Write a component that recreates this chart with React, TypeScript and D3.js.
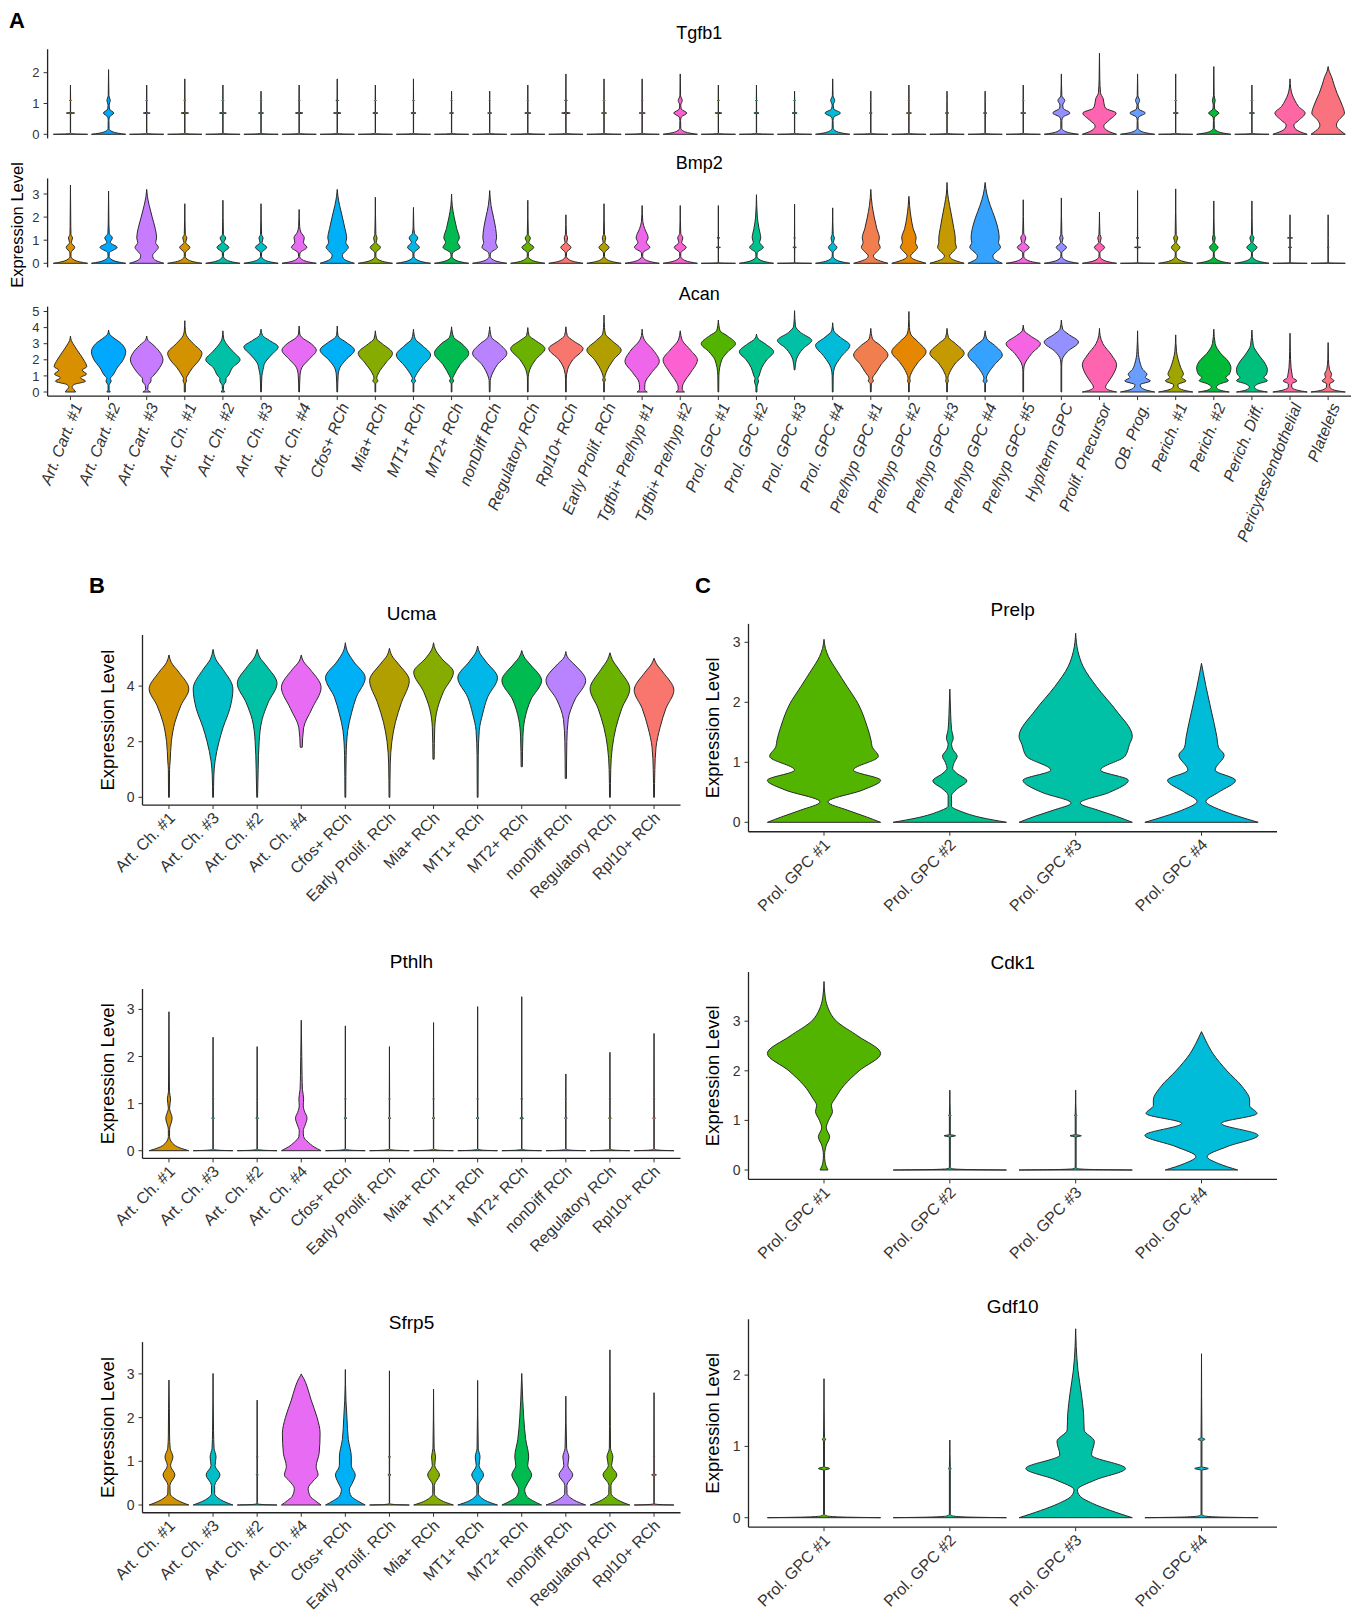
import React from "react";
import * as d3 from "d3";

type Knot = [number, number]; // [expression value, relative half-width]

// ---------- helpers to write violin outlines ----------
// thin "line" violin: spike at zero, thin stem to max, small dashes at ~0.69 / ~1.1
const STEM = 0.008;
const L = (max: number, t1: number, t2: number): Knot[] => {
  const k: Knot[] = [[0, 1], [0.01, 0.3], [0.025, 0.05], [0.05, STEM], [0.665, STEM], [0.69, t1], [0.715, STEM]];
  if (max > 1.2) k.push([1.075, STEM], [1.1, t2], [1.125, STEM]);
  k.push([max, 0]);
  return k;
};
// zero-inflated violin: full skirt at zero, then read knots, then tip at max
const Z = (max: number, mid: Knot[], s = 0.25): Knot[] => [
  [0, 1], [s * 0.2, 0.55], [s * 0.5, 0.2], [s, 0.03],
  ...mid.filter((k) => k[0] > s),
  [max, 0],
];

// ---------- categories & colours ----------
const CATS_A = [
  "Art. Cart. #1", "Art. Cart. #2", "Art. Cart. #3", "Art. Ch. #1", "Art. Ch. #2", "Art. Ch. #3", "Art. Ch. #4",
  "Cfos+ RCh", "Mia+ RCh", "MT1+ RCh", "MT2+ RCh", "nonDiff RCh", "Regulatory RCh", "Rpl10+ RCh",
  "Early Prolif. RCh", "Tgfbi+ Pre/hyp #1", "Tgfbi+ Pre/hyp #2", "Prol. GPC #1", "Prol. GPC #2", "Prol. GPC #3",
  "Prol. GPC #4", "Pre/hyp GPC #1", "Pre/hyp GPC #2", "Pre/hyp GPC #3", "Pre/hyp GPC #4", "Pre/hyp GPC #5",
  "Hyp/term GPC", "Prolif. Precursor", "OB. Prog.", "Perich. #1", "Perich. #2", "Perich. Diff.",
  "Pericytes/endothelial", "Platelets",
];
const COLORS_A = [
  "#D89000", "#00A9FF", "#C77CFF", "#D39200", "#00C0A6", "#00BEC8", "#E76BF3", "#00B0F6", "#86AC00", "#00B7E8",
  "#00BC50", "#B983FF", "#6BB100", "#F8766D", "#B19F00", "#EE67EB", "#FD61D1", "#53B400", "#00C08B", "#00C1A5",
  "#00BCD8", "#F07E4E", "#E58700", "#C49A00", "#35A2FF", "#F564E3", "#9590FF", "#FF64B0", "#699EFF", "#A0A400",
  "#00BA38", "#00BF7D", "#FF67A4", "#FB727F",
];
const CATS_B = [
  "Art. Ch. #1", "Art. Ch. #3", "Art. Ch. #2", "Art. Ch. #4", "Cfos+ RCh", "Early Prolif. RCh", "Mia+ RCh",
  "MT1+ RCh", "MT2+ RCh", "nonDiff RCh", "Regulatory RCh", "Rpl10+ RCh",
];
const COLORS_B = ["#D39200", "#00BEC8", "#00C0A6", "#E76BF3", "#00B0F6", "#B19F00", "#86AC00", "#00B7E8", "#00BC50", "#B983FF", "#6BB100", "#F8766D"];
const CATS_C = ["Prol. GPC #1", "Prol. GPC #2", "Prol. GPC #3", "Prol. GPC #4"];
const COLORS_C = ["#53B400", "#00C08B", "#00C1A5", "#00BCD8"];

// ---------- tick values ----------
const TICKS_TGFB1 = [0, 1, 2];
const TICKS_BMP2 = [0, 1, 2, 3];
const TICKS_ACAN = [0, 1, 2, 3, 4, 5];
const TICKS_UCMA = [0, 2, 4];
const TICKS_PTHLH = [0, 1, 2, 3];
const TICKS_SFRP5 = [0, 1, 2, 3];
const TICKS_PRELP = [0, 1, 2, 3];
const TICKS_CDK1 = [0, 1, 2, 3];
const TICKS_GDF10 = [0, 1, 2];

// ---------- violin outlines (value, relative half-width) ----------
const TGFB1: Knot[][] = [
  L(1.6, 0.24, 0.06),
  Z(2.1, [[0.45, 0.02], [0.56, 0.05], [0.69, 0.3], [0.82, 0.05], [0.95, 0.03], [1.1, 0.1], [1.25, 0.02]], 0.18),
  L(1.6, 0.2, 0.05), L(1.8, 0.22, 0.06), L(1.6, 0.2, 0.05), L(1.4, 0.15, 0.04), L(1.6, 0.22, 0.06),
  L(1.8, 0.22, 0.08), L(1.6, 0.15, 0.05), L(1.8, 0.15, 0.05), L(1.4, 0.12, 0.03), L(1.4, 0.12, 0.03),
  L(1.6, 0.18, 0.04), L(1.96, 0.25, 0.08), L(1.8, 0.15, 0.05), L(1.8, 0.18, 0.06),
  Z(1.96, [[0.45, 0.02], [0.56, 0.06], [0.69, 0.38], [0.82, 0.06], [0.95, 0.03], [1.1, 0.12], [1.25, 0.02]], 0.2),
  L(1.6, 0.2, 0.06), L(1.6, 0.15, 0.05), L(1.4, 0.15, 0.05),
  Z(1.8, [[0.45, 0.02], [0.56, 0.07], [0.69, 0.45], [0.82, 0.07], [0.95, 0.03], [1.1, 0.12], [1.25, 0.02]], 0.2),
  L(1.4, 0.08, 0.03), L(1.6, 0.15, 0.04), L(1.4, 0.1, 0.03), L(1.4, 0.1, 0.03), L(1.6, 0.15, 0.04),
  Z(1.96, [[0.45, 0.03], [0.56, 0.1], [0.69, 0.5], [0.85, 0.1], [0.95, 0.08], [1.1, 0.2], [1.25, 0.03]], 0.2),
  [[0, 1], [0.08, 0.6], [0.18, 0.32], [0.27, 0.25], [0.45, 0.55], [0.69, 0.97], [0.85, 0.35], [1.05, 0.25], [1.15, 0.22], [1.35, 0.06], [1.8, 0.02], [2.63, 0]],
  Z(1.96, [[0.45, 0.02], [0.56, 0.07], [0.69, 0.45], [0.82, 0.07], [0.95, 0.03], [1.1, 0.12], [1.25, 0.02]], 0.2),
  L(1.96, 0.15, 0.05),
  Z(2.2, [[0.45, 0.02], [0.56, 0.05], [0.69, 0.3], [0.82, 0.05], [0.95, 0.03], [1.1, 0.08], [1.25, 0.02]], 0.2),
  L(1.6, 0.15, 0.05),
  [[0, 1], [0.08, 0.6], [0.18, 0.3], [0.3, 0.22], [0.45, 0.5], [0.69, 0.88], [0.9, 0.5], [1.1, 0.28], [1.3, 0.12], [1.5, 0.04], [1.8, 0]],
  [[0, 1], [0.1, 0.75], [0.2, 0.55], [0.3, 0.48], [0.45, 0.6], [0.69, 0.95], [0.9, 0.85], [1.33, 0.52], [1.6, 0.35], [1.87, 0.2], [2.05, 0.06], [2.2, 0]],
];

const BMP2: Knot[][] = [
  Z(3.39, [[0.45, 0.03], [0.69, 0.25], [0.9, 0.05], [1.1, 0.12], [1.25, 0.03], [1.6, 0.02]], 0.3),
  Z(3.13, [[0.45, 0.04], [0.69, 0.5], [0.9, 0.1], [1.1, 0.22], [1.3, 0.04], [1.7, 0.02]], 0.3),
  [[0, 1], [0.1, 0.6], [0.22, 0.38], [0.35, 0.35], [0.5, 0.5], [0.69, 0.68], [0.9, 0.52], [1.1, 0.58], [1.5, 0.5], [2.0, 0.32], [2.5, 0.15], [2.9, 0.04], [3.2, 0]],
  Z(2.58, [[0.45, 0.03], [0.69, 0.3], [0.9, 0.05], [1.1, 0.12], [1.25, 0.03]], 0.3),
  Z(2.73, [[0.45, 0.03], [0.69, 0.35], [0.9, 0.06], [1.1, 0.16], [1.25, 0.03]], 0.3),
  Z(2.58, [[0.45, 0.03], [0.69, 0.33], [0.9, 0.06], [1.1, 0.12], [1.25, 0.03]], 0.3),
  Z(2.33, [[0.45, 0.05], [0.69, 0.45], [0.9, 0.25], [1.1, 0.3], [1.35, 0.1], [1.6, 0.03]], 0.3),
  [[0, 1], [0.1, 0.6], [0.22, 0.35], [0.35, 0.3], [0.5, 0.45], [0.69, 0.65], [0.9, 0.5], [1.1, 0.55], [1.5, 0.45], [2.0, 0.3], [2.5, 0.14], [2.9, 0.04], [3.2, 0]],
  Z(2.86, [[0.45, 0.03], [0.69, 0.3], [0.9, 0.05], [1.1, 0.1], [1.25, 0.03]], 0.3),
  Z(2.42, [[0.45, 0.03], [0.69, 0.35], [0.9, 0.12], [1.1, 0.25], [1.3, 0.06], [1.6, 0.02]], 0.3),
  Z(3.0, [[0.45, 0.06], [0.69, 0.5], [0.9, 0.35], [1.1, 0.45], [1.5, 0.3], [2.0, 0.15], [2.5, 0.04]], 0.3),
  Z(3.15, [[0.45, 0.06], [0.69, 0.45], [0.9, 0.35], [1.1, 0.4], [1.5, 0.35], [2.0, 0.22], [2.5, 0.08]], 0.3),
  Z(2.73, [[0.45, 0.03], [0.69, 0.35], [0.9, 0.06], [1.1, 0.15], [1.25, 0.03]], 0.3),
  Z(2.1, [[0.45, 0.03], [0.69, 0.3], [0.9, 0.05], [1.1, 0.1], [1.25, 0.03]], 0.3),
  Z(2.58, [[0.45, 0.03], [0.69, 0.3], [0.9, 0.05], [1.1, 0.1], [1.25, 0.03]], 0.3),
  Z(2.5, [[0.45, 0.04], [0.69, 0.45], [0.9, 0.25], [1.1, 0.35], [1.5, 0.15], [1.8, 0.04]], 0.3),
  Z(2.5, [[0.45, 0.03], [0.69, 0.35], [0.9, 0.08], [1.1, 0.15], [1.3, 0.03]], 0.3),
  L(2.5, 0.12, 0.08),
  Z(2.97, [[0.45, 0.04], [0.69, 0.4], [0.9, 0.18], [1.1, 0.25], [1.5, 0.15], [2.0, 0.05]], 0.3),
  L(2.56, 0.1, 0.05),
  Z(2.4, [[0.45, 0.02], [0.69, 0.25], [0.9, 0.04], [1.1, 0.1], [1.25, 0.03]], 0.3),
  [[0, 1], [0.1, 0.55], [0.2, 0.25], [0.32, 0.15], [0.5, 0.35], [0.69, 0.55], [0.9, 0.45], [1.1, 0.5], [1.5, 0.35], [2.0, 0.2], [2.5, 0.08], [3.2, 0]],
  [[0, 1], [0.1, 0.55], [0.2, 0.22], [0.32, 0.1], [0.5, 0.3], [0.69, 0.5], [0.9, 0.38], [1.1, 0.42], [1.5, 0.25], [2.0, 0.12], [2.5, 0.04], [2.9, 0]],
  [[0, 1], [0.1, 0.55], [0.2, 0.25], [0.32, 0.15], [0.5, 0.35], [0.69, 0.55], [0.9, 0.48], [1.1, 0.48], [1.5, 0.4], [2.0, 0.28], [2.5, 0.15], [3.0, 0.04], [3.5, 0]],
  [[0, 1], [0.1, 0.7], [0.2, 0.5], [0.32, 0.45], [0.5, 0.65], [0.69, 0.9], [0.9, 0.78], [1.1, 0.82], [1.5, 0.75], [2.0, 0.55], [2.5, 0.3], [3.0, 0.1], [3.5, 0]],
  Z(2.75, [[0.45, 0.03], [0.69, 0.35], [0.9, 0.08], [1.1, 0.15], [1.3, 0.03]], 0.3),
  Z(2.83, [[0.45, 0.02], [0.69, 0.3], [0.9, 0.04], [1.1, 0.1], [1.25, 0.03]], 0.3),
  Z(2.22, [[0.45, 0.02], [0.69, 0.3], [0.9, 0.04], [1.1, 0.1], [1.25, 0.03]], 0.3),
  L(3.15, 0.18, 0.08),
  Z(3.22, [[0.45, 0.02], [0.69, 0.25], [0.9, 0.04], [1.1, 0.12], [1.25, 0.03]], 0.3),
  Z(2.7, [[0.45, 0.02], [0.69, 0.25], [0.9, 0.04], [1.1, 0.08], [1.25, 0.03]], 0.3),
  Z(2.7, [[0.45, 0.02], [0.69, 0.3], [0.9, 0.05], [1.1, 0.12], [1.25, 0.03]], 0.3),
  L(2.1, 0.1, 0.15),
  L(2.1, 0.06, 0.04),
];

const ACAN: Knot[][] = [
  [[0, 0.3], [0.15, 0.2], [0.3, 0.1], [0.46, 0.2], [0.67, 0.88], [0.88, 0.58], [1.11, 0.93], [1.36, 0.68], [1.57, 0.95], [1.98, 0.78], [2.6, 0.39], [3.0, 0.15], [3.2, 0.05], [3.48, 0]],
  [[0, 0.1], [0.15, 0.03], [0.4, 0.03], [0.69, 0.15], [0.85, 0.1], [1.0, 0.22], [1.5, 0.5], [2.0, 0.85], [2.5, 1.0], [3.0, 0.75], [3.4, 0.25], [3.6, 0.05], [3.85, 0]],
  [[0, 0.22], [0.15, 0.06], [0.4, 0.08], [0.69, 0.25], [0.85, 0.25], [1.0, 0.38], [1.5, 0.75], [2.0, 0.95], [2.5, 0.75], [3.0, 0.3], [3.2, 0.08], [3.48, 0]],
  [[0, 0.03], [0.5, 0.03], [0.69, 0.1], [0.85, 0.08], [1.0, 0.15], [1.5, 0.45], [2.0, 0.85], [2.4, 1.0], [3.0, 0.5], [3.5, 0.1], [3.8, 0.03], [4.43, 0]],
  [[0, 0.1], [0.15, 0.03], [0.4, 0.04], [0.69, 0.18], [0.85, 0.18], [1.0, 0.3], [1.5, 0.55], [2.0, 1.0], [2.5, 0.6], [3.0, 0.2], [3.3, 0.05], [3.8, 0]],
  [[0, 0.02], [1.0, 0.05], [1.4, 0.12], [1.8, 0.22], [2.3, 0.6], [2.8, 1.0], [3.2, 0.5], [3.5, 0.1], [3.9, 0]],
  [[0, 0.02], [1.0, 0.05], [1.5, 0.15], [2.0, 0.55], [2.6, 1.0], [3.0, 0.7], [3.4, 0.15], [3.6, 0.04], [4.1, 0]],
  [[0, 0.02], [1.0, 0.05], [1.5, 0.15], [2.0, 0.5], [2.6, 1.0], [3.1, 0.5], [3.4, 0.1], [3.6, 0.03], [4.1, 0]],
  [[0, 0.02], [0.5, 0.02], [0.69, 0.15], [0.85, 0.08], [1.2, 0.2], [1.8, 0.6], [2.4, 1.0], [3.0, 0.4], [3.3, 0.08], [3.8, 0]],
  [[0, 0.02], [0.5, 0.02], [0.69, 0.12], [0.85, 0.06], [1.0, 0.12], [1.6, 0.5], [2.3, 1.0], [2.9, 0.5], [3.3, 0.1], [3.9, 0]],
  [[0, 0.02], [0.5, 0.02], [0.69, 0.12], [0.85, 0.06], [1.0, 0.12], [1.7, 0.5], [2.4, 1.0], [3.0, 0.6], [3.4, 0.12], [4.05, 0]],
  [[0, 0.02], [0.7, 0.03], [1.0, 0.1], [1.7, 0.45], [2.4, 1.0], [3.0, 0.55], [3.4, 0.1], [4.05, 0]],
  [[0, 0.02], [0.8, 0.02], [1.4, 0.12], [2.0, 0.45], [2.7, 1.0], [3.2, 0.45], [3.5, 0.08], [4.0, 0]],
  [[0, 0.02], [0.8, 0.02], [1.4, 0.1], [2.0, 0.4], [2.7, 1.0], [3.2, 0.4], [3.5, 0.08], [4.05, 0]],
  [[0, 0.02], [0.6, 0.02], [0.75, 0.08], [0.9, 0.04], [1.2, 0.12], [2.0, 0.55], [2.6, 1.0], [3.2, 0.45], [3.6, 0.08], [4.0, 0.03], [4.78, 0]],
  [[0, 0.3], [0.15, 0.15], [0.3, 0.15], [0.6, 0.18], [1.2, 0.55], [1.9, 1.0], [2.6, 0.65], [3.2, 0.15], [3.5, 0.04], [3.9, 0]],
  [[0, 0.25], [0.15, 0.12], [0.3, 0.12], [0.6, 0.22], [1.2, 0.6], [2.0, 1.0], [2.6, 0.6], [3.2, 0.12], [3.5, 0.04], [3.8, 0]],
  [[0, 0.02], [1.0, 0.03], [2.0, 0.2], [2.5, 0.55], [3.0, 1.0], [3.5, 0.5], [3.8, 0.1], [4.47, 0]],
  [[0, 0.03], [0.3, 0.03], [0.69, 0.12], [0.85, 0.08], [1.0, 0.15], [1.5, 0.3], [2.0, 0.6], [2.5, 1.0], [3.0, 0.5], [3.3, 0.1], [3.6, 0]],
  [[1.37, 0.02], [2.0, 0.1], [2.7, 0.5], [3.2, 1.0], [3.7, 0.35], [4.1, 0.05], [5.05, 0]],
  [[0, 0.02], [1.0, 0.03], [1.5, 0.1], [2.2, 0.5], [2.9, 1.0], [3.4, 0.45], [3.8, 0.06], [4.3, 0]],
  [[0, 0.02], [0.5, 0.03], [0.69, 0.15], [0.85, 0.1], [1.2, 0.3], [1.7, 0.6], [2.3, 1.0], [2.9, 0.55], [3.3, 0.1], [3.95, 0]],
  [[0, 0.02], [0.5, 0.02], [0.7, 0.08], [0.85, 0.05], [1.2, 0.15], [1.8, 0.5], [2.5, 1.0], [3.1, 0.55], [3.6, 0.1], [4.0, 0.03], [5.0, 0]],
  [[0, 0.02], [0.5, 0.02], [0.7, 0.08], [0.85, 0.05], [1.2, 0.15], [1.8, 0.5], [2.4, 1.0], [3.0, 0.5], [3.4, 0.08], [3.95, 0]],
  [[0, 0.02], [0.5, 0.02], [0.69, 0.12], [0.85, 0.07], [1.2, 0.2], [1.7, 0.55], [2.3, 1.0], [2.9, 0.55], [3.3, 0.1], [3.8, 0]],
  [[0, 0.02], [1.2, 0.02], [1.6, 0.05], [2.4, 0.5], [3.0, 1.0], [3.5, 0.4], [3.8, 0.06], [4.15, 0]],
  [[0, 0.02], [1.6, 0.02], [2.0, 0.05], [2.5, 0.35], [3.1, 1.0], [3.6, 0.4], [3.9, 0.08], [4.47, 0]],
  [[0, 1], [0.12, 0.55], [0.3, 0.35], [0.6, 0.5], [1.0, 0.75], [1.7, 1.0], [2.3, 0.7], [3.0, 0.2], [3.5, 0.04], [3.95, 0]],
  [[0, 1], [0.12, 0.5], [0.3, 0.2], [0.45, 0.15], [0.69, 0.75], [0.9, 0.45], [1.1, 0.55], [1.4, 0.3], [1.8, 0.15], [2.5, 0.04], [3.8, 0]],
  [[0, 1], [0.12, 0.45], [0.3, 0.15], [0.45, 0.12], [0.69, 0.6], [0.9, 0.35], [1.1, 0.45], [1.5, 0.3], [2.0, 0.15], [2.5, 0.05], [3.55, 0]],
  [[0, 0.9], [0.12, 0.35], [0.3, 0.15], [0.5, 0.35], [0.7, 0.85], [0.9, 0.7], [1.1, 0.9], [1.5, 1.0], [1.9, 0.85], [2.4, 0.4], [3.0, 0.08], [3.9, 0]],
  [[0, 0.9], [0.12, 0.35], [0.3, 0.15], [0.5, 0.35], [0.7, 0.9], [0.9, 0.7], [1.1, 0.85], [1.4, 0.9], [1.8, 0.75], [2.3, 0.4], [2.9, 0.08], [3.85, 0]],
  [[0, 1], [0.12, 0.4], [0.3, 0.1], [0.5, 0.1], [0.69, 0.4], [0.9, 0.15], [1.1, 0.12], [1.5, 0.06], [2.5, 0.02], [3.65, 0]],
  [[0, 1], [0.12, 0.35], [0.3, 0.1], [0.5, 0.08], [0.69, 0.35], [0.9, 0.15], [1.1, 0.2], [1.4, 0.08], [2.0, 0.02], [3.07, 0]],
];

const UCMA: Knot[][] = [
  [[0, 0.02], [1.0, 0.03], [1.3, 0.06], [2.0, 0.12], [2.7, 0.3], [3.3, 0.6], [3.9, 1.0], [4.5, 0.5], [4.85, 0.12], [5.12, 0]],
  [[0, 0.02], [0.8, 0.04], [1.3, 0.1], [2.0, 0.3], [2.5, 0.5], [3.2, 0.85], [3.9, 1.0], [4.6, 0.5], [4.95, 0.15], [5.32, 0]],
  [[0, 0.02], [1.0, 0.05], [2.0, 0.1], [2.8, 0.25], [3.4, 0.55], [4.1, 1.0], [4.7, 0.5], [5.05, 0.12], [5.32, 0]],
  [[1.8, 0.05], [2.5, 0.12], [3.2, 0.55], [3.95, 1.0], [4.6, 0.45], [4.9, 0.1], [5.12, 0]],
  [[0, 0.02], [1.5, 0.04], [2.4, 0.12], [3.0, 0.3], [3.6, 0.55], [4.3, 1.0], [4.9, 0.4], [5.25, 0.1], [5.56, 0]],
  [[0, 0.02], [1.2, 0.04], [2.0, 0.12], [2.7, 0.3], [3.4, 0.6], [4.2, 1.0], [4.8, 0.45], [5.1, 0.12], [5.36, 0]],
  [[1.37, 0.03], [2.5, 0.06], [3.2, 0.2], [3.8, 0.5], [4.5, 1.0], [5.0, 0.4], [5.3, 0.1], [5.56, 0]],
  [[0, 0.02], [1.5, 0.03], [2.4, 0.08], [3.0, 0.25], [3.6, 0.5], [4.3, 1.0], [4.9, 0.4], [5.2, 0.1], [5.44, 0]],
  [[1.1, 0.03], [2.2, 0.06], [2.8, 0.15], [3.5, 0.45], [4.2, 1.0], [4.8, 0.4], [5.05, 0.12], [5.28, 0]],
  [[0.68, 0.03], [2.0, 0.05], [2.8, 0.12], [3.5, 0.45], [4.2, 1.0], [4.8, 0.4], [5.0, 0.12], [5.24, 0]],
  [[0, 0.02], [1.0, 0.04], [1.8, 0.12], [2.5, 0.3], [3.2, 0.6], [3.9, 1.0], [4.6, 0.45], [4.95, 0.12], [5.2, 0]],
  [[0, 0.02], [1.0, 0.04], [1.8, 0.1], [2.5, 0.3], [3.2, 0.6], [3.85, 1.0], [4.5, 0.45], [4.8, 0.12], [5.0, 0]],
];

const PTHLH: Knot[][] = [
  Z(2.95, [[0.45, 0.03], [0.69, 0.16], [0.9, 0.03], [1.1, 0.08], [1.25, 0.025], [1.5, 0.02]], 0.3),
  L(2.41, 0.07, 0.04),
  L(2.21, 0.07, 0.03),
  [[0, 1], [0.08, 0.65], [0.18, 0.35], [0.3, 0.12], [0.42, 0.1], [0.55, 0.2], [0.69, 0.29], [0.85, 0.15], [0.95, 0.1], [1.1, 0.12], [1.3, 0.06], [1.6, 0.04], [2.0, 0.025], [2.77, 0]],
  L(2.65, 0.07, 0.03), L(2.21, 0.07, 0.03), L(2.72, 0.07, 0.03), L(3.06, 0.07, 0.03),
  L(3.27, 0.09, 0.04), L(1.63, 0.07, 0.03), L(2.09, 0.07, 0.04), L(2.49, 0.07, 0.04),
];

const SFRP5: Knot[][] = [
  [[0, 1], [0.08, 0.55], [0.16, 0.25], [0.25, 0.06], [0.45, 0.05], [0.69, 0.3], [0.9, 0.08], [1.1, 0.2], [1.3, 0.06], [1.6, 0.03], [2.2, 0.02], [2.86, 0]],
  [[0, 1], [0.08, 0.55], [0.16, 0.25], [0.26, 0.08], [0.45, 0.08], [0.69, 0.35], [0.9, 0.1], [1.1, 0.15], [1.3, 0.05], [1.7, 0.025], [3.01, 0]],
  L(2.4, 0.05, 0.04),
  [[0, 1], [0.1, 0.7], [0.2, 0.45], [0.38, 0.35], [0.55, 0.6], [0.69, 0.85], [0.88, 0.75], [1.18, 0.9], [1.64, 0.95], [2.0, 0.8], [2.4, 0.5], [2.7, 0.3], [2.9, 0.12], [2.96, 0.04], [3.0, 0]],
  [[0, 1], [0.1, 0.6], [0.2, 0.3], [0.35, 0.2], [0.5, 0.35], [0.69, 0.5], [0.9, 0.3], [1.1, 0.3], [1.5, 0.15], [2.0, 0.08], [2.4, 0.03], [3.1, 0]],
  L(3.07, 0.08, 0.05),
  [[0, 1], [0.08, 0.5], [0.16, 0.2], [0.26, 0.04], [0.45, 0.04], [0.69, 0.3], [0.9, 0.06], [1.1, 0.1], [1.3, 0.03], [2.65, 0]],
  [[0, 1], [0.08, 0.5], [0.16, 0.2], [0.26, 0.04], [0.45, 0.04], [0.69, 0.3], [0.9, 0.07], [1.1, 0.12], [1.3, 0.03], [2.85, 0]],
  [[0, 1], [0.1, 0.55], [0.2, 0.25], [0.35, 0.15], [0.5, 0.3], [0.69, 0.5], [0.9, 0.3], [1.1, 0.35], [1.5, 0.2], [2.0, 0.1], [2.4, 0.05], [3.01, 0]],
  [[0, 1], [0.08, 0.55], [0.16, 0.25], [0.26, 0.06], [0.45, 0.05], [0.69, 0.35], [0.9, 0.1], [1.1, 0.15], [1.3, 0.04], [2.49, 0]],
  [[0, 1], [0.08, 0.55], [0.16, 0.25], [0.26, 0.06], [0.45, 0.05], [0.69, 0.35], [0.9, 0.08], [1.1, 0.15], [1.3, 0.03], [1.8, 0.02], [3.55, 0]],
  L(2.57, 0.12, 0.04),
];

const PRELP: Knot[][] = [
  [[0, 1], [0.09, 0.75], [0.2, 0.42], [0.34, 0.07], [0.54, 0.69], [0.7, 1.0], [0.87, 0.52], [1.1, 0.96], [1.26, 0.85], [1.37, 0.83], [1.6, 0.76], [1.98, 0.6], [2.26, 0.41], [2.54, 0.22], [2.76, 0.08], [2.9, 0.025], [3.05, 0]],
  [[0, 1], [0.08, 0.55], [0.18, 0.2], [0.27, 0.03], [0.45, 0.03], [0.55, 0.12], [0.69, 0.3], [0.82, 0.12], [0.9, 0.05], [1.0, 0.08], [1.1, 0.13], [1.22, 0.05], [1.3, 0.03], [1.4, 0.06], [1.55, 0.03], [1.8, 0.015], [2.22, 0]],
  [[0, 1], [0.1, 0.72], [0.2, 0.4], [0.32, 0.08], [0.5, 0.6], [0.7, 0.93], [0.87, 0.44], [1.1, 0.87], [1.3, 0.95], [1.43, 1.0], [1.87, 0.71], [2.26, 0.37], [2.6, 0.13], [2.85, 0.04], [3.15, 0]],
  [[0, 1], [0.1, 0.65], [0.2, 0.35], [0.35, 0.08], [0.5, 0.3], [0.7, 0.6], [0.87, 0.24], [1.12, 0.4], [1.25, 0.3], [1.43, 0.27], [1.87, 0.17], [2.26, 0.08], [2.5, 0.03], [2.65, 0]],
];

const CDK1: Knot[][] = [
  [[0, 0.07], [0.15, 0.02], [0.3, 0.01], [0.5, 0.04], [0.67, 0.1], [0.85, 0.04], [1.0, 0.08], [1.18, 0.15], [1.3, 0.13], [1.45, 0.2], [1.7, 0.35], [2.0, 0.62], [2.35, 1.0], [2.7, 0.6], [3.0, 0.22], [3.3, 0.06], [3.5, 0.02], [3.8, 0]],
  L(1.61, 0.1, 0.02),
  L(1.61, 0.1, 0.02),
  [[0, 0.64], [0.13, 0.3], [0.27, 0.1], [0.47, 0.45], [0.7, 1.0], [0.94, 0.35], [1.14, 0.98], [1.3, 0.85], [1.41, 0.85], [1.68, 0.72], [2.0, 0.45], [2.35, 0.2], [2.62, 0.07], [2.79, 0]],
];

const GDF10: Knot[][] = [
  L(1.95, 0.1, 0.03),
  L(1.09, 0.02, 0.01),
  [[0, 1], [0.1, 0.62], [0.2, 0.3], [0.3, 0.08], [0.39, 0.03], [0.53, 0.35], [0.69, 0.88], [0.88, 0.28], [1.07, 0.33], [1.23, 0.15], [1.46, 0.14], [1.74, 0.1], [2.07, 0.04], [2.4, 0.01], [2.65, 0]],
  L(2.3, 0.12, 0.06),
];

// ---------- drawing ----------
const FONT = "'Liberation Sans', Arial, Helvetica, sans-serif";

type PanelProps = {
  title: string;
  titleY: number;
  cats: string[];
  colors: string[];
  data: Knot[][];
  ticks: number[];
  x0: number;
  x1: number;
  zeroY: number;
  unit: number;
  labels: boolean;
  xAxis: boolean;
  labelAngle: number;
  labelSize: number;
  labelDx: number;
  labelDy: number;
  labelItalic?: boolean;
  tickSize: number;
  titleSize: number;
  yTitleX?: number;
};

function Panel(p: PanelProps) {
  const xs = d3.scalePoint<string>().domain(p.cats).range([p.x0, p.x1]).padding(0.6);
  const hw = xs.step() * 0.45;
  const ys = d3.scaleLinear().domain([0, 1]).range([p.zeroY, p.zeroY - p.unit]);
  const M = d3.max(p.data, (k) => k[k.length - 1][0]) as number;
  const top = ys(M * 1.05);
  const bottom = ys(-0.05 * M);
  return (
    <g>
      <text x={(p.x0 + p.x1) / 2} y={p.titleY} textAnchor="middle" fontSize={p.titleSize} fill="#000">
        {p.title}
      </text>
      {p.data.map((knots, i) => {
        const cx = xs(p.cats[i]) as number;
        const area = d3
          .area<Knot>()
          .curve(d3.curveMonotoneY)
          .y((d) => ys(d[0]))
          .x0((d) => cx - d[1] * hw)
          .x1((d) => cx + d[1] * hw);
        return (
          <path key={i} d={area(knots) || ""} fill={p.colors[i]} stroke="#2a2a2a" strokeWidth={1} strokeLinejoin="round" />
        );
      })}
      {/* y axis */}
      <line x1={p.x0} x2={p.x0} y1={top} y2={bottom} stroke="#222" strokeWidth={1.3} />
      {p.ticks.map((t) => (
        <g key={t}>
          <line x1={p.x0 - 4} x2={p.x0} y1={ys(t)} y2={ys(t)} stroke="#333" strokeWidth={1} />
          <text x={p.x0 - 8} y={ys(t)} dy="0.36em" textAnchor="end" fontSize={p.tickSize} fill="#333">
            {t}
          </text>
        </g>
      ))}
      {/* x axis */}
      {p.xAxis && <line x1={p.x0} x2={p.x1} y1={bottom} y2={bottom} stroke="#222" strokeWidth={1.3} />}
      {p.xAxis &&
        p.cats.map((c) => {
          const cx = xs(c) as number;
          return <line key={c} x1={cx} x2={cx} y1={bottom} y2={bottom + 4} stroke="#333" strokeWidth={1} />;
        })}
      {p.labels &&
        p.cats.map((c) => {
          const cx = xs(c) as number;
          const ax = cx + p.labelDx;
          const ay = bottom + p.labelDy;
          return (
            <text
              key={c}
              x={ax}
              y={ay}
              transform={`rotate(${-p.labelAngle},${ax},${ay})`}
              textAnchor="end"
              fontSize={p.labelSize}
              fontStyle={p.labelItalic ? "italic" : "normal"}
              fill="#333"
            >
              {c}
            </text>
          );
        })}
      {p.yTitleX !== undefined && (
        <text
          x={p.yTitleX}
          y={(top + bottom) / 2}
          transform={`rotate(-90,${p.yTitleX},${(top + bottom) / 2})`}
          textAnchor="middle"
          fontSize={18.5}
          fill="#000"
        >
          Expression Level
        </text>
      )}
    </g>
  );
}

export default function App() {
  const A = { cats: CATS_A, colors: COLORS_A, x0: 47.6, x1: 1351, tickSize: 13, titleSize: 18, labelAngle: 68, labelSize: 16, labelDx: 12, labelDy: 10, labelItalic: true };
  const B = { cats: CATS_B, colors: COLORS_B, x0: 142.5, x1: 680.5, tickSize: 14, titleSize: 19, labelAngle: 45, labelSize: 16, labelDx: 7, labelDy: 14, labels: true, xAxis: true, yTitleX: 114 };
  const C = { cats: CATS_C, colors: COLORS_C, x0: 748.5, x1: 1277, tickSize: 14, titleSize: 19, labelAngle: 45, labelSize: 16, labelDx: 7, labelDy: 14, labels: true, xAxis: true, yTitleX: 719 };
  return (
    <svg
      width={1365}
      height={1621}
      style={{ position: "absolute", left: 0, top: 0, background: "#fff" }}
      fontFamily={FONT}
    >
      <rect width={1365} height={1621} fill="#fff" />
      <text x={9} y={28} fontSize={22} fontWeight="bold">A</text>
      <text x={89} y={593} fontSize={22} fontWeight="bold">B</text>
      <text x={695} y={593} fontSize={22} fontWeight="bold">C</text>
      <text x={23} y={225} transform="rotate(-90,23,225)" textAnchor="middle" fontSize={16.5} fill="#000">
        Expression Level
      </text>

      <Panel {...A} title="Tgfb1" titleY={39} data={TGFB1} ticks={TICKS_TGFB1} zeroY={134.3} unit={30.8} labels={false} xAxis={false} />
      <Panel {...A} title="Bmp2" titleY={169} data={BMP2} ticks={TICKS_BMP2} zeroY={263.3} unit={23.1} labels={false} xAxis={false} />
      <Panel {...A} title="Acan" titleY={300} data={ACAN} ticks={TICKS_ACAN} zeroY={392} unit={16.1} labels={true} xAxis={true} />

      <Panel {...B} title="Ucma" titleY={620} data={UCMA} ticks={TICKS_UCMA} zeroY={797.3} unit={27.8} />
      <Panel {...B} title="Pthlh" titleY={968} data={PTHLH} ticks={TICKS_PTHLH} zeroY={1150.7} unit={47.1} />
      <Panel {...B} title="Sfrp5" titleY={1329} data={SFRP5} ticks={TICKS_SFRP5} zeroY={1505} unit={43.7} />

      <Panel {...C} title="Prelp" titleY={616} data={PRELP} ticks={TICKS_PRELP} zeroY={822.3} unit={60} />
      <Panel {...C} title="Cdk1" titleY={969} data={CDK1} ticks={TICKS_CDK1} zeroY={1170} unit={49.6} />
      <Panel {...C} title="Gdf10" titleY={1313} data={GDF10} ticks={TICKS_GDF10} zeroY={1517.7} unit={71.3} />
    </svg>
  );
}
